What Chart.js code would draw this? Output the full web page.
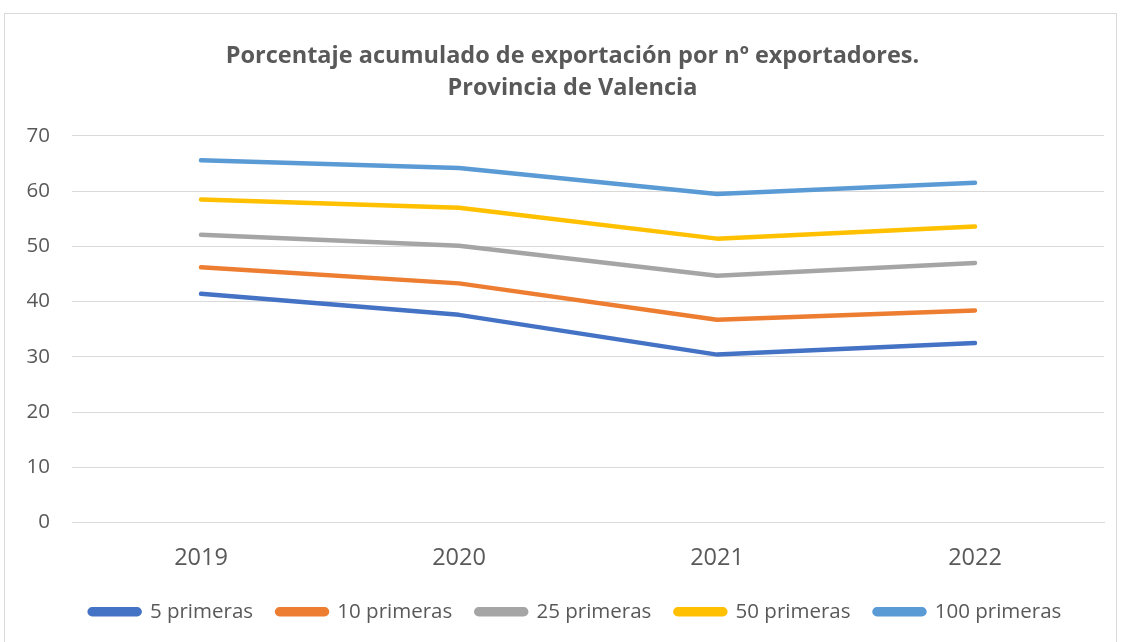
<!DOCTYPE html>
<html>
<head>
<meta charset="utf-8">
<script src="https://cdn.jsdelivr.net/npm/chart.js@4"></script>
<style>
  body { margin: 0; background: #fff; overflow: hidden; }
  #frame { position: absolute; left: 4px; top: 13px; width: 1113px; height: 640px; border: 1px solid #d9d9d9; box-sizing: border-box; }
  #wrap { position: absolute; left: 0; top: 0; width: 1111px; height: 628px; }
</style>
</head>
<body>
<div id="frame"><div id="wrap"><canvas id="chjs_chart0"></canvas></div></div>
<script>
// years on x axis
const years = ["2019", "2020", "2021", "2022"];
// cumulative export share (%) per group of top exporters
const top5 = [41.4, 37.6, 30.4, 32.5];
const top10 = [46.2, 43.3, 36.7, 38.4];
const top25 = [52.1, 50.1, 44.7, 47.0];
const top50 = [58.5, 57.0, 51.4, 53.6];
const top100 = [65.6, 64.2, 59.5, 61.5];
const y_ticks = [0, 10, 20, 30, 40, 50, 60, 70];

const font_name = "'Open Sans', Lato, sans-serif";

function make_set(label, data, color){
    return {
        label: label,
        data: data,
        fill: false,
        borderColor: color,
        backgroundColor: color,
        borderWidth: 4.5,
        borderCapStyle: "round",
        borderJoinStyle: "round",
        pointRadius: 0,
        tension: 0
    };
}

// title and legend sit a bit right of the canvas centre in the original
const center_shift = {
    id: "center_shift",
    afterLayout: function(chart){
        chart.titleBlock.left += 7;
        chart.titleBlock.right += 7;
        chart.legend.left += 10;
        chart.legend.right += 10;
    }
};

new Chart(document.getElementById("chjs_chart0"), {
    type: "line",
    data: {
        labels: years,
        datasets: [
            make_set("5 primeras", top5, "#4472c4"),
            make_set("10 primeras", top10, "#ed7d31"),
            make_set("25 primeras", top25, "#a5a5a5"),
            make_set("50 primeras", top50, "#ffc000"),
            make_set("100 primeras", top100, "#5b9bd5")
        ]
    },
    plugins: [center_shift],
    options: {
        responsive: true,
        maintainAspectRatio: false,
        animation: false,
        layout: { padding: { left: 22, right: 12, top: 10, bottom: 10 } },
        plugins: {
            title: {
                display: true,
                text: ["Porcentaje acumulado de exportación por nº exportadores.", "Provincia de Valencia"],
                color: "#595959",
                font: { family: font_name, size: 23.5, weight: "bold", lineHeight: 1.36 },
                padding: { top: 16, bottom: 32 }
            },
            legend: {
                position: "bottom",
                labels: {
                    color: "#595959",
                    font: { family: font_name, size: 20.5 },
                    boxWidth: 50,
                    boxHeight: 5,
                    useBorderRadius: true,
                    borderRadius: 2.5,
                    padding: 24
                }
            },
            tooltip: { enabled: false }
        },
        scales: {
            x: {
                offset: true,
                grid: { display: false },
                border: { color: "#d9d9d9" },
                ticks: { color: "#595959", font: { family: font_name, size: 23.5 }, padding: 14 },
                afterFit: function(axis){
                    axis.height = 55;
                    axis.paddingLeft = 0;
                    axis.paddingRight = 0;
                }
            },
            y: {
                min: 0,
                max: 70,
                afterBuildTicks: function(axis){
                    axis.ticks = y_ticks.map(function(v){ return { value: v }; });
                },
                grid: { color: "#d9d9d9", drawTicks: false },
                border: { display: false },
                ticks: { color: "#595959", font: { family: font_name, size: 20.5 }, padding: 22 },
                afterFit: function(axis){
                    axis.width = 45;
                }
            }
        }
    }
});
</script>
</body>
</html>
